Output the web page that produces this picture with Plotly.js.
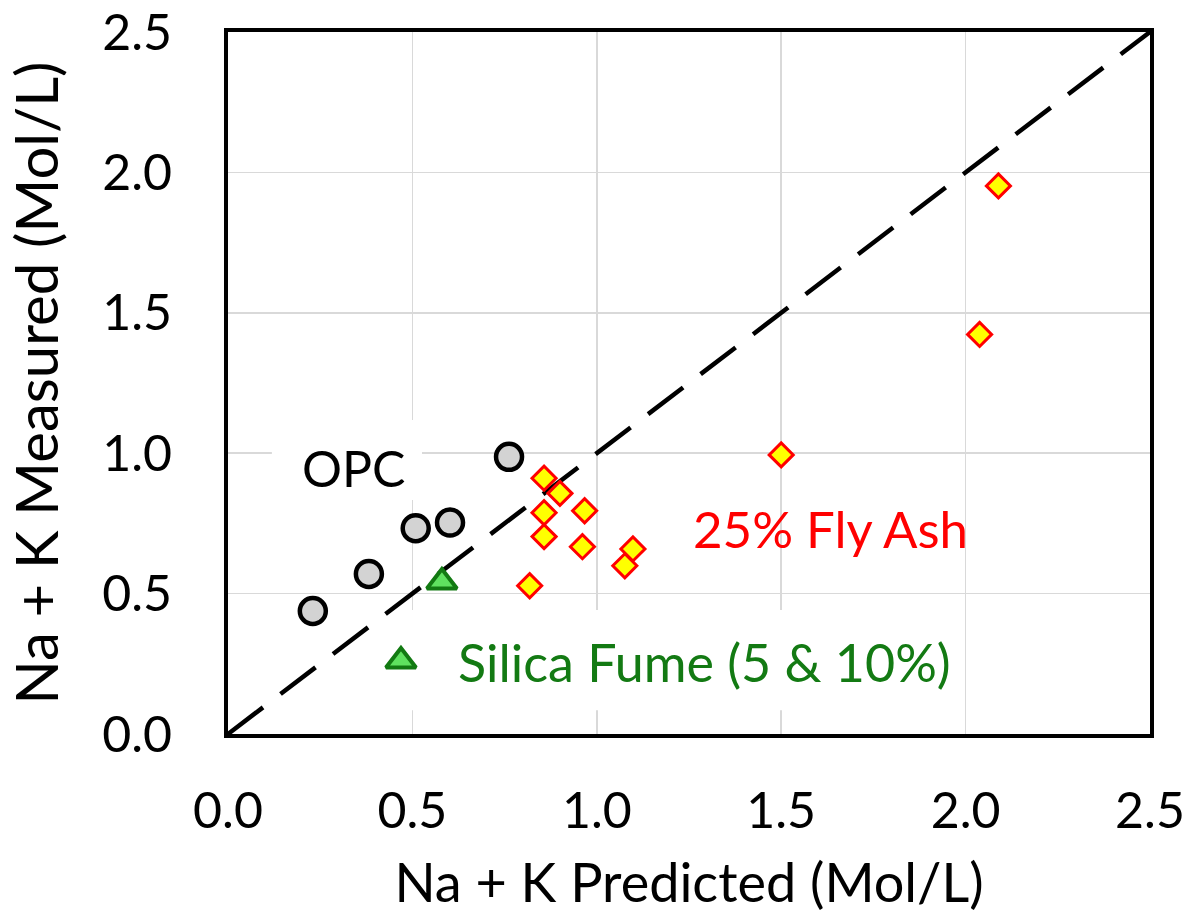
<!DOCTYPE html>
<html>
<head>
<meta charset="utf-8">
<script src="https://cdn.plot.ly/plotly-3.0.1.min.js"></script>
<style>
  html, body { margin: 0; padding: 0; background: #ffffff; }
  #chart { width: 1191px; height: 914px; }
</style>
</head>
<body>
<div id="chart"></div>
<script>
// ---- Data ----
const opcPredicted = [0.230, 0.382, 0.509, 0.602, 0.762];
const opcMeasured  = [0.438, 0.570, 0.733, 0.753, 0.987];

const silicaPredicted = [0.580, 0.469];
const silicaMeasured  = [0.541, 0.260];

const flyAshPredicted = [0.857, 0.900, 0.857, 0.967, 0.857, 0.961, 1.098, 1.076, 0.818, 1.500, 2.089, 2.038];
const flyAshMeasured  = [0.911, 0.857, 0.788, 0.795, 0.703, 0.667, 0.659, 0.599, 0.528, 0.994, 1.952, 1.423];

const unityX = [0, 2.5];
const unityY = [0, 2.5];

const tickValues = [0, 0.5, 1.0, 1.5, 2.0, 2.5];
const tickLabels = ["0.0", "0.5", "1.0", "1.5", "2.0", "2.5"];

const labelOPC = "OPC";
const labelFlyAsh = "25% Fly Ash";
const labelSilica = "Silica Fume (5 & 10%)";
const xTitle = "Na + K Predicted (Mol/L)";
const yTitle = "Na + K Measured (Mol/L)";

const FONT = "Lato, 'Open Sans', sans-serif";

const traces = [
  {
    x: unityX, y: unityY, mode: "lines", type: "scatter",
    line: { color: "#000000", width: 4.5, dash: "44px,22px" },
    hoverinfo: "skip", showlegend: false
  },
  {
    x: opcPredicted, y: opcMeasured, mode: "markers", type: "scatter", name: "OPC",
    marker: { symbol: "circle", size: 26, color: "#d3d3d3", line: { color: "#000000", width: 4.5 } },
    showlegend: false
  },
  {
    x: silicaPredicted, y: silicaMeasured, mode: "markers", type: "scatter", name: "Silica Fume",
    marker: { symbol: "triangle-up", size: 26, color: "#5fe25f", line: { color: "#127a12", width: 4 } },
    showlegend: false
  },
  {
    x: flyAshPredicted, y: flyAshMeasured, mode: "markers", type: "scatter", name: "25% Fly Ash",
    marker: { symbol: "diamond", size: 18.5, color: "#ffff00", line: { color: "#ff0000", width: 3 } },
    showlegend: false
  }
];

const axisCommon = {
  range: [0, 2.5],
  tickmode: "array",
  tickvals: tickValues,
  ticktext: tickLabels,
  showgrid: true,
  gridcolor: "#d9d9d9",
  gridwidth: 1.5,
  zeroline: false,
  showline: true,
  mirror: true,
  linecolor: "#000000",
  linewidth: 4,
  ticks: "",
  tickfont: { family: FONT, size: 50, color: "#000000" },
  fixedrange: true
};

const layout = {
  width: 1191,
  height: 914,
  paper_bgcolor: "#ffffff",
  plot_bgcolor: "#ffffff",
  margin: { l: 228, r: 41, t: 32, b: 180 },
  showlegend: false,
  font: { family: FONT, color: "#000000" },
  xaxis: Object.assign({}, axisCommon, {
    ticklabelstandoff: 30,
    title: { text: xTitle, font: { family: FONT, size: 54, color: "#000000" }, standoff: 34 }
  }),
  yaxis: Object.assign({}, axisCommon, {
    ticklabelstandoff: 42,
    title: { text: yTitle, font: { family: FONT, size: 58, color: "#000000" }, standoff: 26 }
  }),
  shapes: [
    { type: "rect", layer: "between", xref: "x", yref: "y", x0: 0.119, x1: 0.526, y0: 0.833, y1: 1.118,
      fillcolor: "#ffffff", line: { width: 0 } },
    { type: "rect", layer: "between", xref: "x", yref: "y", x0: 0.453, x1: 1.984, y0: 0.085, y1: 0.442,
      fillcolor: "#ffffff", line: { width: 0 } }
  ],
  annotations: [
    { text: labelOPC, x: 0.341, y: 0.947, xref: "x", yref: "y", showarrow: false,
      font: { family: FONT, size: 50, color: "#000000" } },
    { text: labelFlyAsh, x: 1.634, y: 0.732, xref: "x", yref: "y", showarrow: false,
      font: { family: FONT, size: 51, color: "#ff0000" } },
    { text: labelSilica, x: 1.293, y: 0.255, xref: "x", yref: "y", showarrow: false,
      font: { family: FONT, size: 52, color: "#137a13" } }
  ]
};

Plotly.newPlot("chart", traces, layout, { displayModeBar: false, staticPlot: true });
</script>
</body>
</html>
